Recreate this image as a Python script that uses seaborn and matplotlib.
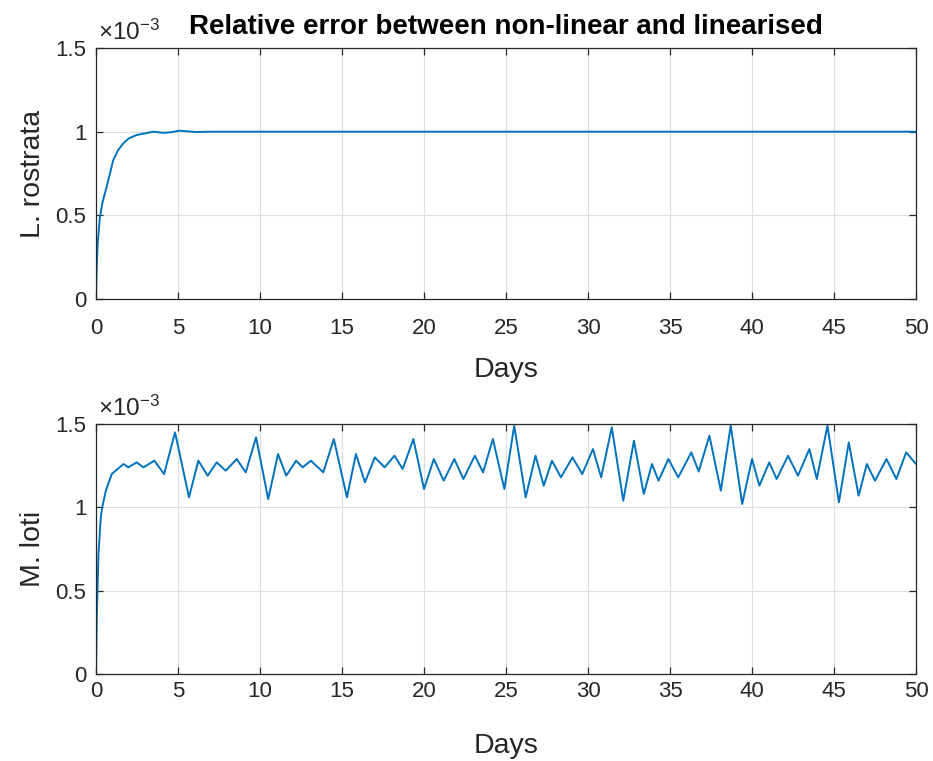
import matplotlib
matplotlib.use("Agg")
import matplotlib.pyplot as plt
import seaborn as sns
import pandas as pd

# Relative error (units of 1e-3) for each species over time
top_days = [0, 0.04, 0.1, 0.24, 0.4, 0.65, 1.05, 1.35, 1.66, 2.0, 2.48, 3.0, 3.5, 4.1, 4.6, 5.1, 6.1, 7.0, 50.0]
top_vals = [0, 0.18, 0.33, 0.49, 0.58, 0.67, 0.83, 0.89, 0.93, 0.96, 0.98, 0.99, 1.0, 0.993, 0.997, 1.006, 0.998, 1.0, 1.0]

bot_days = [0, 0.05, 0.15, 0.3, 0.38, 0.6, 0.96, 1.67, 1.97, 2.48, 2.89, 3.56, 4.15, 4.82,
            5.67, 6.24, 6.81, 7.36, 7.91, 8.58, 9.13, 9.76, 10.5, 11.1, 11.6, 12.2, 12.6,
            13.1, 13.86, 14.5, 15.3, 15.85, 16.4, 17.0, 17.6, 18.2, 18.7, 19.35, 20.0,
            20.6, 21.2, 21.85, 22.4, 23.1, 23.6, 24.2, 24.9, 25.5, 26.2, 26.8, 27.3, 27.8,
            28.35, 29.05, 29.65, 30.3, 30.8, 31.45, 32.15, 32.8, 33.4, 33.9, 34.3, 34.9,
            35.5, 36.3, 36.75, 37.4, 38.1, 38.7, 39.4, 40.0, 40.45, 41.05, 41.5, 42.2,
            42.8, 43.5, 43.95, 44.6, 45.3, 45.9, 46.5, 47.0, 47.5, 48.2, 48.8, 49.4, 50.0]
bot_vals = [0, 0.35, 0.72, 0.95, 1.0, 1.1, 1.2, 1.26, 1.24, 1.27, 1.24, 1.28, 1.20, 1.45,
            1.06, 1.28, 1.19, 1.27, 1.22, 1.29, 1.21, 1.42, 1.05, 1.32, 1.19, 1.28, 1.24,
            1.28, 1.21, 1.41, 1.06, 1.32, 1.15, 1.30, 1.24, 1.31, 1.23, 1.41, 1.11,
            1.29, 1.16, 1.29, 1.17, 1.31, 1.21, 1.41, 1.11, 1.49, 1.06, 1.31, 1.13, 1.28,
            1.18, 1.30, 1.20, 1.35, 1.18, 1.48, 1.04, 1.40, 1.08, 1.26, 1.16, 1.29,
            1.18, 1.33, 1.215, 1.43, 1.10, 1.49, 1.02, 1.29, 1.13, 1.27, 1.17, 1.31,
            1.19, 1.35, 1.17, 1.49, 1.03, 1.39, 1.07, 1.26, 1.16, 1.29, 1.17, 1.33, 1.26]

x_ticks = [0, 5, 10, 15, 20, 25, 30, 35, 40, 45, 50]
y_ticks = [0, 0.5, 1, 1.5]
y_tick_labels = ["0", "0.5", "1", "1.5"]
panel_labels = ["L. rostrata", "M. loti"]
title_text = "Relative error between non-linear and linearised"

sns.set_theme(style="white")
plt.rcParams["font.family"] = ["Liberation Sans", "DejaVu Sans"]
plt.rcParams["mathtext.fontset"] = "custom"
plt.rcParams["mathtext.rm"] = "Liberation Sans"
plt.rcParams["mathtext.it"] = "Liberation Sans"

line_color = "#0072BD"
axis_color = "#262626"
tick_fs = 16
label_fs = 20.5

fig = plt.figure(figsize=(9.33, 7.61), dpi=100)
ax_top = fig.add_axes([0.1029, 0.6071, 0.8789, 0.3298])
ax_bot = fig.add_axes([0.1029, 0.1143, 0.8789, 0.3285])

frames = [
    pd.DataFrame({"Days": top_days, "err": top_vals}),
    pd.DataFrame({"Days": bot_days, "err": bot_vals}),
]
x_pads = [14, 5]
x_labelpads = [12.5, 22]

for ax, df, name, xpad, xlp in zip([ax_top, ax_bot], frames, panel_labels, x_pads, x_labelpads):
    sns.lineplot(data=df, x="Days", y="err", ax=ax, color=line_color,
                 linewidth=1.4, estimator=None, sort=False,
                 solid_joinstyle="round", solid_capstyle="round")
    ax.set_xlim(0, 50)
    ax.set_ylim(0, 1.5)
    ax.set_xticks(x_ticks)
    ax.set_yticks(y_ticks)
    ax.set_yticklabels(y_tick_labels)
    ax.grid(True, color="#dedede", linewidth=0.8)
    ax.set_axisbelow(True)
    for sp in ax.spines.values():
        sp.set_color(axis_color)
        sp.set_linewidth(0.9)
        sp.set_visible(True)
    ax.tick_params(direction="in", length=5, width=0.9, colors=axis_color,
                   labelsize=tick_fs, top=True, right=True, bottom=True, left=True,
                   labelcolor=axis_color)
    ax.tick_params(axis="y", pad=7)
    ax.tick_params(axis="x", pad=xpad)
    ax.set_xlabel("Days", fontsize=label_fs, color=axis_color, labelpad=xlp)
    ax.set_ylabel(name, fontsize=label_fs, color=axis_color, labelpad=7)
    ax.text(0.002, 1.012, r"$\times10^{-3}$", transform=ax.transAxes,
            fontsize=17.5, color=axis_color, ha="left", va="bottom")

ax_top.set_title(title_text, fontsize=20, fontweight="bold",
                 color="black", pad=10, x=0.5)

fig.savefig("out.png", dpi=100)
